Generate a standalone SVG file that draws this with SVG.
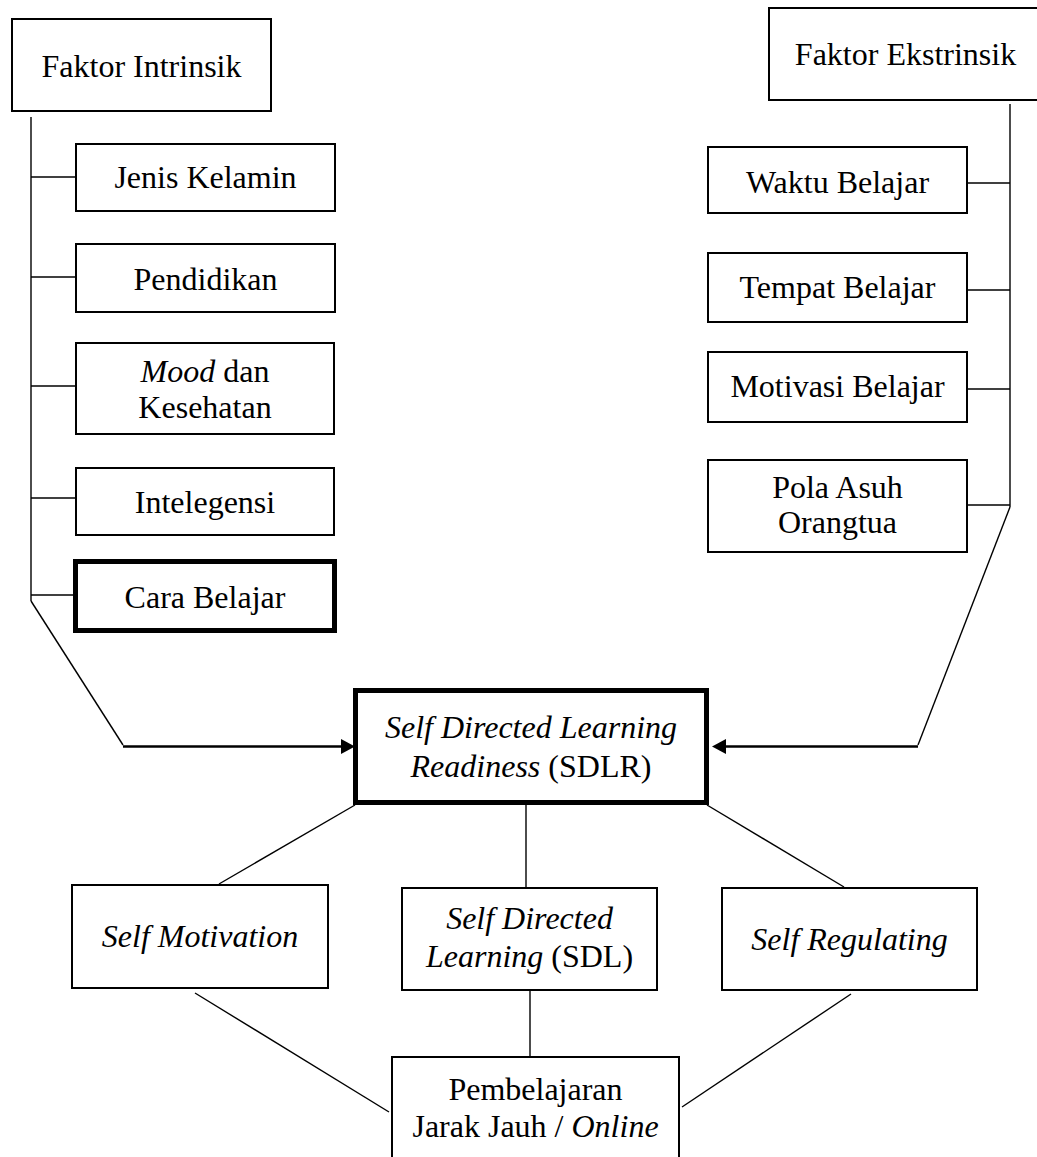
<svg xmlns="http://www.w3.org/2000/svg" width="1037" height="1157" viewBox="0 0 1037 1157">
<style>
.box{fill:#fff;stroke:#000;stroke-width:2}
.thick{fill:#fff;stroke:#000;stroke-width:5}
.t{font-family:"Liberation Serif","Times New Roman",serif;font-size:32px;fill:#000;text-anchor:middle}
.i{font-style:italic}
.ln{stroke:#000;stroke-width:1.4;fill:none}
.ar{stroke:#000;stroke-width:2.6;fill:none}
</style>
<defs>
<marker id="ah" viewBox="0 0 14 15" refX="0" refY="7.5" markerWidth="14" markerHeight="15" markerUnits="userSpaceOnUse" orient="auto">
<path d="M0,0 L14,7.5 L0,15 z" fill="#000"/>
</marker>
</defs>
<rect width="1037" height="1157" fill="#fff"/>
<g id="connectors">
<line class="ln" x1="31" y1="117" x2="31" y2="601"/>
<line class="ln" x1="31" y1="177" x2="75" y2="177"/>
<line class="ln" x1="31" y1="277" x2="75" y2="277"/>
<line class="ln" x1="31" y1="386" x2="75" y2="386"/>
<line class="ln" x1="31" y1="498" x2="75" y2="498"/>
<line class="ln" x1="31" y1="595" x2="74" y2="595"/>
<line class="ln" x1="31" y1="601" x2="123" y2="745"/>
<line class="ar" x1="123" y1="746.5" x2="341" y2="746.5" marker-end="url(#ah)"/>
<line class="ln" x1="1010" y1="104" x2="1010" y2="507"/>
<line class="ln" x1="968" y1="183" x2="1010" y2="183"/>
<line class="ln" x1="968" y1="290" x2="1010" y2="290"/>
<line class="ln" x1="968" y1="389" x2="1010" y2="389"/>
<line class="ln" x1="968" y1="505" x2="1010" y2="505"/>
<line class="ln" x1="1010" y1="507" x2="918" y2="745"/>
<line class="ar" x1="918" y1="746.5" x2="726" y2="746.5" marker-end="url(#ah)"/>
<line class="ln" x1="355" y1="805" x2="219" y2="884"/>
<line class="ln" x1="526" y1="805" x2="526" y2="887"/>
<line class="ln" x1="707" y1="805" x2="844" y2="887"/>
<line class="ln" x1="195" y1="993" x2="389" y2="1112"/>
<line class="ln" x1="530" y1="991" x2="530" y2="1056"/>
<line class="ln" x1="851" y1="994" x2="682" y2="1107"/>
</g>
<g id="faktor-intrinsik"><rect class="box" x="12" y="19" width="259" height="92"/><text class="t" x="141.5" y="77">Faktor Intrinsik</text></g>
<g id="jenis-kelamin"><rect class="box" x="76" y="144" width="259" height="67"/><text class="t" x="205.5" y="188">Jenis Kelamin</text></g>
<g id="pendidikan"><rect class="box" x="76" y="244" width="259" height="68"/><text class="t" x="205.5" y="290">Pendidikan</text></g>
<g id="mood"><rect class="box" x="76" y="343" width="258" height="91"/><text class="t" x="205" y="382"><tspan class="i">Mood</tspan> dan</text><text class="t" x="205" y="418">Kesehatan</text></g>
<g id="intelegensi"><rect class="box" x="76" y="468" width="258" height="67"/><text class="t" x="205" y="513">Intelegensi</text></g>
<g id="cara-belajar"><rect class="thick" x="75.5" y="561.5" width="259" height="69"/><text class="t" x="205" y="608">Cara Belajar</text></g>
<g id="faktor-ekstrinsik"><rect class="box" x="769" y="8" width="273" height="92"/><text class="t" x="905.5" y="65">Faktor Ekstrinsik</text></g>
<g id="waktu-belajar"><rect class="box" x="708" y="147" width="259" height="66"/><text class="t" x="837.5" y="193">Waktu Belajar</text></g>
<g id="tempat-belajar"><rect class="box" x="708" y="253" width="259" height="69"/><text class="t" x="837.5" y="298">Tempat Belajar</text></g>
<g id="motivasi-belajar"><rect class="box" x="708" y="352" width="259" height="70"/><text class="t" x="837.5" y="397">Motivasi Belajar</text></g>
<g id="pola-asuh"><rect class="box" x="708" y="460" width="259" height="92"/><text class="t" x="837.5" y="498">Pola Asuh</text><text class="t" x="837.5" y="533">Orangtua</text></g>
<g id="sdlr"><rect class="thick" x="355.5" y="690.5" width="351" height="112"/><text class="t i" x="531" y="738">Self Directed Learning</text><text class="t" x="531" y="777"><tspan class="i">Readiness</tspan> (SDLR)</text></g>
<g id="self-motivation"><rect class="box" x="72" y="885" width="256" height="103"/><text class="t i" x="200" y="947">Self Motivation</text></g>
<g id="sdl"><rect class="box" x="402" y="888" width="255" height="102"/><text class="t i" x="529.5" y="929">Self Directed</text><text class="t" x="529.5" y="967"><tspan class="i">Learning</tspan> (SDL)</text></g>
<g id="self-regulating"><rect class="box" x="722" y="888" width="255" height="102"/><text class="t i" x="849.5" y="950">Self Regulating</text></g>
<g id="pembelajaran"><rect class="box" x="392" y="1057" width="287" height="120"/><text class="t" x="535.5" y="1100">Pembelajaran</text><text class="t" x="535.5" y="1137">Jarak Jauh / <tspan class="i">Online</tspan></text></g>
</svg>
